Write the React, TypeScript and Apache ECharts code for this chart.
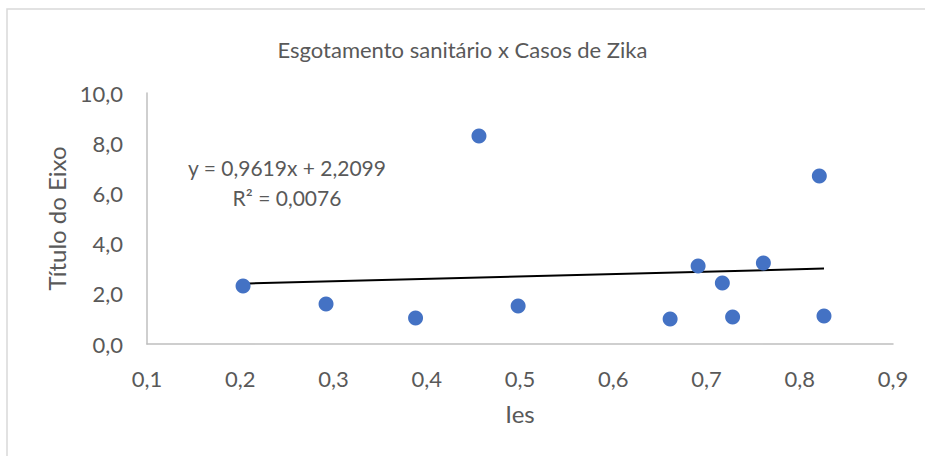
import React, { useEffect, useRef } from "react";
import * as echarts from "echarts";

const TITLE = "Esgotamento sanitário x Casos de Zika";
const X_NAME = "Ies";
const Y_NAME = "Título do Eixo";
const iesValues = [0.203, 0.292, 0.388, 0.456, 0.498, 0.661, 0.691, 0.717, 0.728, 0.761, 0.821, 0.826];
const zikaValues = [2.31, 1.59, 1.04, 8.29, 1.51, 1.0, 3.11, 2.43, 1.08, 3.23, 6.69, 1.12];
const TREND_SLOPE = 0.9619;
const TREND_INTERCEPT = 2.2099;
const EQUATION_TEXT = "y = 0,9619x + 2,2099";
const R2_TEXT = "R² = 0,0076";

const FONT = "Lato, 'Open Sans', sans-serif";
const TEXT_COLOR = "#595959";

export default function App() {
  const ref = useRef<HTMLDivElement>(null);
  useEffect(() => {
    if (!ref.current) return;
    const chart = echarts.init(ref.current, undefined, { renderer: "svg" });
    const points = iesValues.map((x, i) => [x, zikaValues[i]]);
    const xMin = Math.min(...iesValues);
    const xMax = Math.max(...iesValues);
    const trend = [
      [xMin, TREND_SLOPE * xMin + TREND_INTERCEPT],
      [xMax, TREND_SLOPE * xMax + TREND_INTERCEPT],
    ];
    const fmt1 = (v: number) => v.toFixed(1).replace(".", ",");
    chart.setOption({
      animation: false,
      backgroundColor: "#ffffff",
      textStyle: { fontFamily: FONT },
      title: {
        text: TITLE,
        left: "center",
        top: 33,
        textStyle: { fontFamily: FONT, fontSize: 22, fontWeight: "normal", color: TEXT_COLOR },
      },
      grid: { left: 147, top: 93, right: 32, bottom: 112 },
      xAxis: {
        type: "value",
        min: 0.1,
        max: 0.9,
        interval: 0.1,
        name: X_NAME,
        nameLocation: "middle",
        nameGap: 57,
        nameTextStyle: { fontFamily: FONT, fontSize: 24, color: TEXT_COLOR },
        axisLine: { show: true, lineStyle: { color: "#bfbfbf", width: 1.5 } },
        axisTick: { show: false },
        splitLine: { show: false },
        axisLabel: { formatter: fmt1, margin: 23, fontFamily: FONT, fontSize: 22, color: TEXT_COLOR },
      },
      yAxis: {
        type: "value",
        min: 0,
        max: 10,
        interval: 2,
        name: Y_NAME,
        nameLocation: "middle",
        nameGap: 75,
        nameTextStyle: { fontFamily: FONT, fontSize: 24, color: TEXT_COLOR },
        axisLine: { show: true, lineStyle: { color: "#bfbfbf", width: 1.5 } },
        axisTick: { show: false },
        splitLine: { show: false },
        axisLabel: { formatter: fmt1, margin: 24, fontFamily: FONT, fontSize: 22, color: TEXT_COLOR },
      },
      series: [
        {
          type: "scatter",
          data: points,
          symbolSize: 15,
          itemStyle: { color: "#4472C4", opacity: 1 },
          z: 3,
        },
        {
          type: "line",
          data: trend,
          symbol: "none",
          lineStyle: { color: "#000000", width: 2 },
          z: 2,
        },
      ],
      graphic: [
        {
          type: "rect",
          shape: { x: 7, y: 9, width: 960, height: 500 },
          style: { fill: "none", stroke: "#d9d9d9", lineWidth: 1.5 },
          silent: true,
        },
        {
          type: "text",
          x: 287,
          y: 167,
          style: { text: EQUATION_TEXT, fontFamily: FONT, fontSize: 21, fill: TEXT_COLOR, textAlign: "center", textVerticalAlign: "middle" },
        },
        {
          type: "text",
          x: 287,
          y: 197,
          style: { text: R2_TEXT, fontFamily: FONT, fontSize: 21, fill: TEXT_COLOR, textAlign: "center", textVerticalAlign: "middle" },
        },
      ],
    });
    return () => chart.dispose();
  }, []);
  return <div ref={ref} style={{ position: "fixed", left: 0, top: 0, width: 925, height: 456 }} />;
}
